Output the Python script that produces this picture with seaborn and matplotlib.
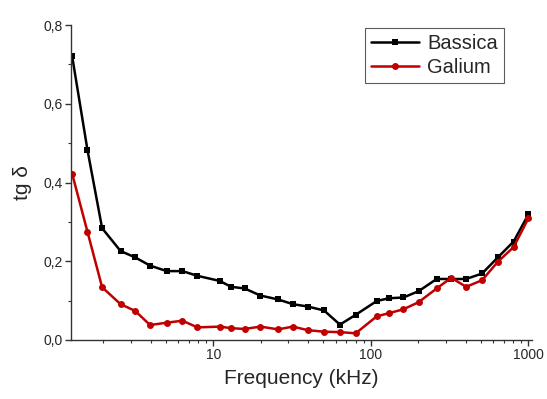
import numpy as np
import pandas as pd
import matplotlib
matplotlib.use("Agg")
import matplotlib.pyplot as plt
import matplotlib.ticker as mticker
import seaborn as sns

freq_khz = [1.27, 1.59, 1.97, 2.58, 3.19, 3.97, 5.07, 6.37, 7.94,
            11.0, 13.0, 15.8, 19.9, 25.8, 32.0, 39.8, 50.5, 63.7, 80.2,
            109, 130, 161, 201, 262, 324, 403, 509, 641, 806, 1000]
bassica = [0.722, 0.483, 0.284, 0.226, 0.210, 0.189, 0.175, 0.175, 0.163,
           0.150, 0.135, 0.131, 0.113, 0.103, 0.091, 0.085, 0.075, 0.039, 0.064,
           0.099, 0.106, 0.108, 0.124, 0.155, 0.155, 0.155, 0.169, 0.210, 0.250, 0.319]
galium = [0.423, 0.275, 0.134, 0.091, 0.074, 0.038, 0.044, 0.049, 0.032,
          0.034, 0.030, 0.028, 0.034, 0.027, 0.034, 0.025, 0.021, 0.020, 0.017,
          0.060, 0.068, 0.078, 0.096, 0.131, 0.158, 0.135, 0.152, 0.199, 0.236, 0.309]
series_names = ["Bassica", "Galium"]
y_ticks = [0.0, 0.2, 0.4, 0.6, 0.8]
y_tick_labels = ["0,0", "0,2", "0,4", "0,6", "0,8"]
x_ticks = [10, 100, 1000]
x_tick_labels = ["10", "100", "1000"]

df = pd.DataFrame({
    "freq": freq_khz * 2,
    "tg": bassica + galium,
    "sample": [series_names[0]] * len(freq_khz) + [series_names[1]] * len(freq_khz),
})

sns.set_style("ticks")
plt.rcParams["font.family"] = ["Liberation Sans", "DejaVu Sans"]

fig = plt.figure(figsize=(5.47, 3.99), dpi=100)
ax = fig.add_axes([0.1298, 0.1479, 0.972 - 0.1298, 0.937 - 0.1479])

palette = {"Bassica": "#000000", "Galium": "#c00000"}
markers = {"Bassica": "s", "Galium": "o"}
sns.lineplot(data=df, x="freq", y="tg", hue="sample", style="sample",
             palette=palette, markers=markers, dashes=False,
             markersize=5, markeredgewidth=0, linewidth=1.8,
             ax=ax, legend=True)

ax.set_xscale("log")
ax.set_xlim(1.25, 1050)
ax.set_ylim(0, 0.8)
ax.set_yticks(y_ticks)
ax.set_yticklabels(y_tick_labels)
ax.yaxis.set_minor_locator(mticker.MultipleLocator(0.1))
ax.set_xticks(x_ticks)
ax.set_xticklabels(x_tick_labels)
ax.xaxis.set_minor_locator(mticker.LogLocator(base=10, subs=np.arange(2, 10)))
ax.xaxis.set_minor_formatter(mticker.NullFormatter())

for s in ["top", "right"]:
    ax.spines[s].set_visible(False)
for s in ["left", "bottom"]:
    ax.spines[s].set_color("#333333")
    ax.spines[s].set_linewidth(1.0)

ax.tick_params(axis="both", which="major", direction="out", length=4, width=1,
               labelsize=10, color="#333333", pad=2)
ax.tick_params(axis="both", which="minor", direction="out", length=2.5, width=0.8,
               color="#333333")

ax.set_xlabel("Frequency (kHz)", fontsize=15, labelpad=5)
ax.set_ylabel("tg δ", fontsize=15, labelpad=8)

handles, labels = ax.get_legend_handles_labels()
leg = ax.legend(handles, labels, loc="upper right", bbox_to_anchor=(0.94, 0.992),
                fontsize=14.5, frameon=True, fancybox=False, borderpad=0.3,
                handlelength=2.4, handletextpad=0.4, labelspacing=0.25,
                borderaxespad=0)
leg.get_frame().set_edgecolor("#333333")
leg.get_frame().set_linewidth(0.8)

fig.savefig("out.png", dpi=100)
